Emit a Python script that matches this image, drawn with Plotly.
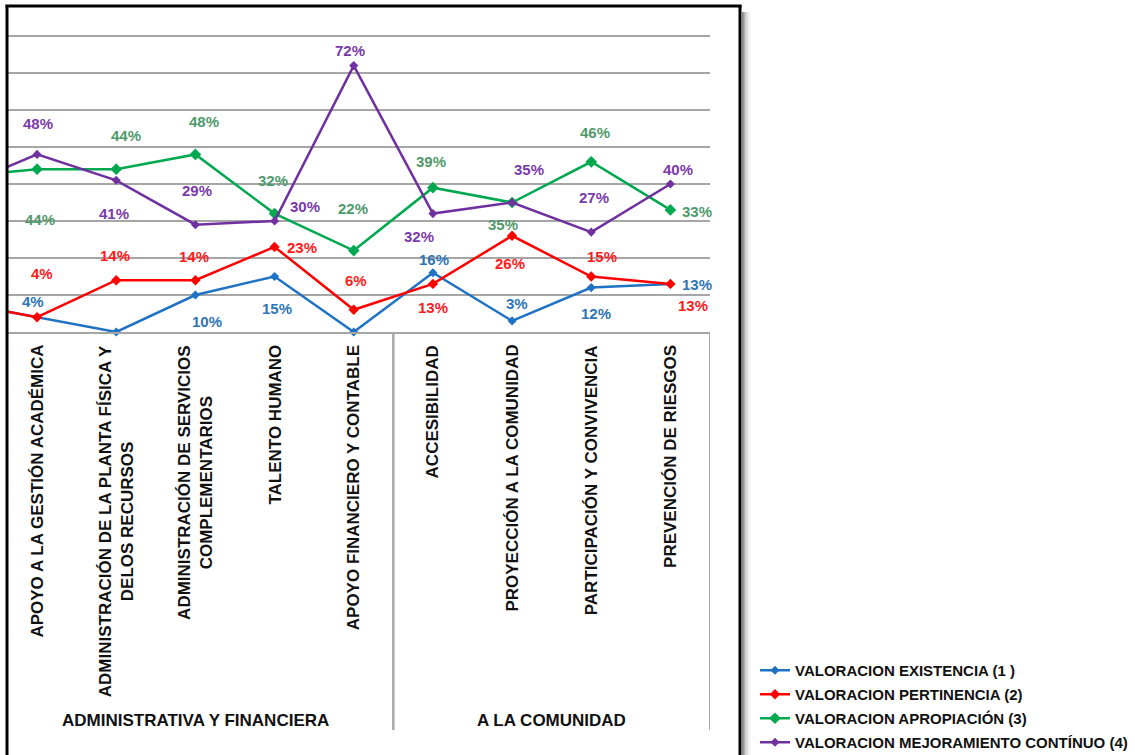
import plotly.graph_objects as go

# ---------------- data ----------------
# first entry is the preceding category that is cut off at the left edge of the picture
positions = [-1, 0, 1, 2, 3, 4, 5, 6, 7, 8]
categories = ["",
              "APOYO A LA GESTIÓN ACADÉMICA",
              "ADMINISTRACIÓN DE LA PLANTA FÍSICA Y<br>DELOS RECURSOS",
              "ADMINISTRACIÓN DE SERVICIOS<br>COMPLEMENTARIOS",
              "TALENTO HUMANO",
              "APOYO FINANCIERO Y CONTABLE",
              "ACCESIBILIDAD",
              "PROYECCIÓN A LA COMUNIDAD",
              "PARTICIPACIÓN Y CONVIVENCIA",
              "PREVENCIÓN DE RIESGOS"]
groups = ["ADMINISTRATIVA Y FINANCIERA", "A LA COMUNIDAD"]
group_spans = [(-0.5, 4.5), (4.5, 8.5)]

existencia = [8, 4, 0, 10, 15, 0, 16, 3, 12, 13]
pertinencia = [8, 4, 14, 14, 23, 6, 13, 26, 15, 13]
apropiacion = [42, 44, 44, 48, 32, 22, 39, 35, 46, 33]
mejoramiento = [39, 48, 41, 29, 30, 72, 32, 35, 27, 40]

series_names = ["VALORACION EXISTENCIA (1 )",
                "VALORACION PERTINENCIA (2)",
                "VALORACION APROPIACIÓN (3)",
                "VALORACION MEJORAMIENTO CONTÍNUO (4)"]
series_values = [existencia, pertinencia, apropiacion, mejoramiento]

# ---------------- styles ----------------
line_colors = ["#1f72c4", "#ff0000", "#00a84f", "#7030a0"]
label_colors = ["#2e75b6", "#ff1a1a", "#4f9a6c", "#7a3aa8"]
marker_sizes = [7, 8, 9, 7]
# label pixel offsets (dx, dy downward) per point; None = no label
label_offsets = [
    [None, (-4, -16), None, (12, 26), (2, 32), None, (1, -13), (5, -17), (5, 26), (27, 1)],
    [None, (5, -44), (-1, -25), (-1, -24), (27, 1), (2, -29), (0, 24), (-2, 28), (11, -20), (23, 22)],
    [None, (3, 50), (10, -34), (9, -33), (-2, -33), (-1, -42), (-2, -26), (-9, 22), (4, -29), (27, 2)],
    [None, (1, -31), (-2, 33), (2, -34), (30, -15), (-4, -15), (-14, 23), (17, -33), (3, -35), (8, -15)],
]

W, H = 1135, 755
FONT = "Liberation Sans, Arial, sans-serif"
Y_TOP = 84          # axis maximum (top gridline visible at 80)
PX_PER_UNIT = 3.7   # vertical pixels per percentage point
Y0_PX = 332         # pixel row of 0 %


def px(x):
    return x / W


def py(y):
    return 1 - y / H


fig = go.Figure()
for name, vals, lc, ms in zip(series_names, series_values, line_colors, marker_sizes):
    fig.add_trace(go.Scatter(
        x=positions, y=vals, mode="lines+markers", name=name,
        legendgroup=name,
        line=dict(color=lc, width=2.5),
        marker=dict(symbol="diamond", size=ms, color=lc),
        cliponaxis=False,
    ))

annotations = []
for vals, offs, col in zip(series_values, label_offsets, label_colors):
    for xpos, v, off in zip(positions, vals, offs):
        if off is None:
            continue
        annotations.append(dict(
            x=xpos, y=v, xref="x", yref="y", text=f"<b>{v}%</b>",
            showarrow=False, xshift=off[0], yshift=-off[1],
            font=dict(family=FONT, size=15, color=col),
            xanchor="center", yanchor="middle",
        ))

# category labels (rotated)
for xpos, cat in zip(positions, categories):
    if not cat:
        continue
    annotations.append(dict(
        x=xpos, y=py(343), xref="x", yref="paper", text=f"<b>{cat}</b>",
        showarrow=False, textangle=-90, xanchor="center", yanchor="top",
        align="center", font=dict(family=FONT, size=17, color="#111111"),
    ))

# group labels
for g, (a, b) in zip(groups, group_spans):
    annotations.append(dict(
        x=(a + b) / 2, y=py(720),
        xref="x", yref="paper", text=f"<b>{g}</b>",
        showarrow=False, xanchor="center", yanchor="middle",
        font=dict(family=FONT, size=17, color="#111111"),
    ))

shapes = []
# group separators
for a, b in group_spans:
    for xv in (a, b):
        if xv < -0.367:
            continue
        shapes.append(dict(type="line", xref="x", yref="paper", x0=xv, x1=xv,
                           y0=py(332), y1=py(730), line=dict(color="#a6a6a6", width=2)))
# picture frame with shadow
shapes.append(dict(type="line", xref="paper", yref="paper", x0=px(7), x1=px(7),
                   y0=py(5), y1=py(770), line=dict(color="#000000", width=3)))
shapes.append(dict(type="line", xref="paper", yref="paper", x0=px(5.5), x1=px(741.5),
                   y0=py(6), y1=py(6), line=dict(color="#000000", width=3)))
for i, c in enumerate(["#8a8a8a", "#b0b0b0", "#cfcfcf", "#e4e4e4", "#f1f1f1"]):
    shapes.append(dict(type="line", xref="paper", yref="paper", x0=px(743 + 1.6 * i), x1=px(743 + 1.6 * i),
                       y0=py(12), y1=py(770), line=dict(color=c, width=2)))
shapes.append(dict(type="line", xref="paper", yref="paper", x0=px(740), x1=px(740),
                   y0=py(5), y1=py(770), line=dict(color="#000000", width=3)))

fig.update_layout(
    width=W, height=H,
    margin=dict(l=0, r=0, t=0, b=0, autoexpand=False),
    paper_bgcolor="white", plot_bgcolor="white",
    showlegend=True,
    legend=dict(x=px(755), y=py(654), xanchor="left", yanchor="top",
                font=dict(family=FONT, size=15, color="#111111", weight="bold"),
                tracegroupgap=1.5, traceorder="grouped", itemwidth=30,
                bgcolor="rgba(0,0,0,0)"),
    xaxis=dict(domain=[px(8), px(710)], range=[-0.367, 8.5], showgrid=False,
               zeroline=False, showticklabels=False, ticks="",
               showline=True, linecolor="#a6a6a6", linewidth=2),
    yaxis=dict(domain=[py(Y0_PX), py(Y0_PX - Y_TOP * PX_PER_UNIT)], range=[0, Y_TOP],
               tickvals=[10, 20, 30, 40, 50, 60, 70, 80],
               showgrid=True, gridcolor="#a6a6a6", gridwidth=2,
               zeroline=False, showticklabels=False, ticks="", showline=False),
    annotations=annotations,
    shapes=shapes,
    font=dict(family=FONT),
)

fig.write_html("out.html", config={"displayModeBar": False},
               post_script="document.body.style.margin='0';")
